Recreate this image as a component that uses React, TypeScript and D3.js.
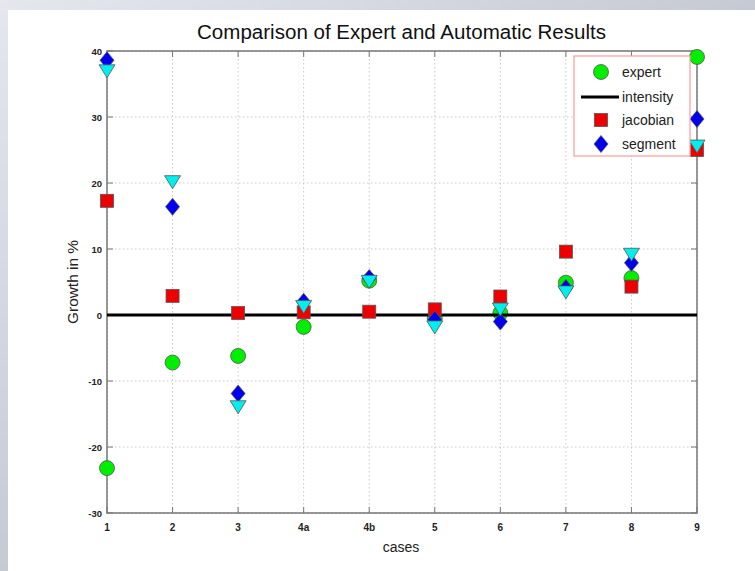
import React from "react";
import * as d3 from "d3";

const cases = ["1", "2", "3", "4a", "4b", "5", "6", "7", "8", "9"];
const expert = [-23.2, -7.2, -6.2, -1.8, 5.2, -0.5, 0.3, 4.9, 5.6, 39.1];
const intensity = [0, 0, 0, 0, 0, 0, 0, 0, 0, 0];
const jacobian = [17.3, 2.9, 0.3, 0.4, 0.5, 0.85, 2.8, 9.6, 4.3, 25.0];
const segment = [38.6, 16.4, -11.9, 2.0, 5.6, -0.7, -1.0, 4.1, 7.9, 29.7];
const triangleSeries = [37.0, 20.2, -13.9, 1.3, 5.1, -1.8, 0.9, 3.5, 9.2, 25.6];
const yTicks = [-30, -20, -10, 0, 10, 20, 30, 40];
const legendItems = ["expert", "intensity", "jacobian", "segment"];

const W = 755, H = 571;
const left = 107, right = 697, top = 51, bottom = 513;

export default function App() {
  const x = d3.scalePoint<string>().domain(cases).range([left, right]);
  const y = d3.scaleLinear().domain([-30, 40]).range([bottom, top]);
  const edge = "#555";
  const diamond = (cx: number, cy: number, w = 7, h = 8.5) =>
    `M${cx},${cy - h}L${cx + w},${cy}L${cx},${cy + h}L${cx - w},${cy}Z`;
  const tri = (cx: number, cy: number) =>
    `M${cx - 8},${cy - 6}L${cx + 8},${cy - 6}L${cx},${cy + 7}Z`;
  const line = d3.line<number>().x((_, i) => x(cases[i])!).y((d) => y(d));
  const legY = [72, 97, 120, 144];
  return (
    <svg width={W} height={H} style={{ position: "absolute", left: 0, top: 0 }}
      fontFamily="'Liberation Sans', Arial, sans-serif">
      <defs>
        <linearGradient id="bg" x1="0" y1="0" x2="1" y2="1">
          <stop offset="0" stopColor="#e4e7ee" />
          <stop offset="1" stopColor="#a8adb9" />
        </linearGradient>
      </defs>
      <rect x={0} y={0} width={W} height={H} fill="url(#bg)" />
      <rect x={8} y={10} width={W - 8} height={H - 10} fill="#fff" />
      <text x={401.5} y={39} textAnchor="middle" fontSize={19.5} fill="#111"
        textLength={409} lengthAdjust="spacingAndGlyphs">
        Comparison of Expert and Automatic Results
      </text>
      {/* grid */}
      {cases.map((c) => (
        <line key={"gx" + c} x1={x(c)} x2={x(c)} y1={top} y2={bottom}
          stroke="#c8c8c8" strokeDasharray="1.5,2.5" strokeWidth={1} />
      ))}
      {yTicks.map((t) => (
        <line key={"gy" + t} x1={left} x2={right} y1={y(t)} y2={y(t)}
          stroke="#c8c8c8" strokeDasharray="1.5,2.5" strokeWidth={1} />
      ))}
      {/* axes box */}
      <rect x={left} y={top} width={right - left} height={bottom - top}
        fill="none" stroke="#777" strokeWidth={1.5} />
      {cases.map((c) => (
        <g key={"tx" + c}>
          <line x1={x(c)} x2={x(c)} y1={bottom} y2={bottom - 6} stroke="#777" />
          <line x1={x(c)} x2={x(c)} y1={top} y2={top + 6} stroke="#777" />
          <text x={x(c)} y={531} textAnchor="middle" fontSize={10}
            fontWeight="bold" fill="#222">{c}</text>
        </g>
      ))}
      {yTicks.map((t) => (
        <g key={"ty" + t}>
          <line x1={left} x2={left + 6} y1={y(t)} y2={y(t)} stroke="#777" />
          <line x1={right} x2={right - 6} y1={y(t)} y2={y(t)} stroke="#777" />
          <text x={102} y={y(t) + 3.5} textAnchor="end" fontSize={9.5}
            fontWeight="bold" fill="#222">{t}</text>
        </g>
      ))}
      <text x={401} y={552} textAnchor="middle" fontSize={14} fill="#222">cases</text>
      <text transform={`translate(78,282) rotate(-90)`} textAnchor="middle"
        fontSize={15} fill="#222" textLength={84} lengthAdjust="spacingAndGlyphs">Growth in %</text>
      {/* data */}
      {expert.map((v, i) => (
        <circle key={"e" + i} cx={x(cases[i])} cy={y(v)} r={7.5}
          fill="#00ee00" stroke={edge} strokeWidth={0.8} />
      ))}
      <path d={line(intensity) || ""} fill="none" stroke="#000" strokeWidth={3} />
      {jacobian.map((v, i) => (
        <rect key={"j" + i} x={x(cases[i])! - 6.5} y={y(v) - 6.5} width={13}
          height={13} fill="#ee0000" stroke={edge} strokeWidth={0.8} />
      ))}
      {segment.map((v, i) => (
        <path key={"s" + i} d={diamond(x(cases[i])!, y(v))} fill="#0000ee"
          stroke={edge} strokeWidth={0.8} />
      ))}
      {triangleSeries.map((v, i) => (
        <path key={"t" + i} d={tri(x(cases[i])!, y(v))} fill="#00eeee"
          stroke={edge} strokeWidth={0.8} />
      ))}
      {/* legend */}
      <rect x={574} y={56} width={116} height={100} fill="#fff"
        stroke="#ff9999" strokeWidth={1.2} />
      <circle cx={601} cy={legY[0]} r={7.5} fill="#00ee00" stroke={edge} strokeWidth={0.8} />
      <line x1={581} x2={619} y1={legY[1]} y2={legY[1]} stroke="#000" strokeWidth={3} />
      <rect x={594.5} y={legY[2] - 6.5} width={13} height={13} fill="#ee0000"
        stroke={edge} strokeWidth={0.8} />
      <path d={diamond(601, legY[3])} fill="#0000ee" stroke={edge} strokeWidth={0.8} />
      {legendItems.map((t, i) => (
        <text key={t} x={622} y={legY[i] + 5} fontSize={14} fill="#222">{t}</text>
      ))}
    </svg>
  );
}
